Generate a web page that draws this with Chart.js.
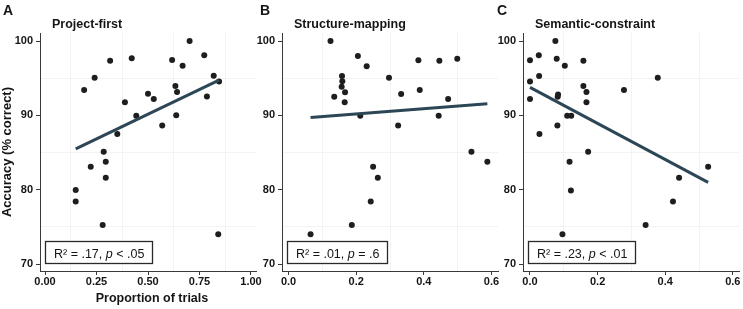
<!DOCTYPE html>
<html>
<head>
<meta charset="utf-8">
<script src="https://cdn.jsdelivr.net/npm/chart.js@4.4.0/dist/chart.umd.min.js"></script>
<style>
  html, body { margin: 0; padding: 0; background: #fff; overflow: hidden; }
  .painel { position: absolute; top: 0; }
</style>
</head>
<body>
<canvas id="grafico-a" class="painel" width="270" height="309" style="left:0px"></canvas>
<canvas id="grafico-b" class="painel" width="270" height="309" style="left:242px"></canvas>
<canvas id="grafico-c" class="painel" width="260" height="309" style="left:483px"></canvas>
<script>
// eixo y comum (acurácia %)
const yTicks = [70, 80, 90, 100];
const yMinor = [75, 85, 95];

// A - Project-first
const projX = [0.149, 0.149, 0.190, 0.222, 0.241, 0.280, 0.285, 0.295, 0.295, 0.316, 0.351, 0.388, 0.421, 0.443,
               0.500, 0.528, 0.569, 0.617, 0.633, 0.637, 0.641, 0.668, 0.702, 0.773, 0.786, 0.819, 0.841, 0.845];
const projY = [79.95, 78.4, 93.4, 83.1, 95.06, 75.24, 85.1, 83.76, 81.6, 97.35, 87.5, 91.75, 97.67, 89.95,
               92.9, 92.2, 88.65, 97.44, 93.94, 90.0, 93.14, 96.68, 100, 98.07, 92.55, 95.33, 74.0, 94.57];
const projFitX = [0.149, 0.845];
const projFitY = [85.5, 94.75];
const projTicks = [0, 0.25, 0.5, 0.75, 1];
const projMinor = [0.125, 0.375, 0.625, 0.875];
const projStats = [["R² = .17, ", false], ["p", true], [" < .05", false]];

// B - Structure-mapping
const estrX = [0.065, 0.124, 0.135, 0.157, 0.158, 0.159, 0.166, 0.167, 0.187, 0.205, 0.212, 0.231, 0.243,
               0.250, 0.264, 0.297, 0.324, 0.333, 0.384, 0.388, 0.444, 0.446, 0.472, 0.499, 0.541, 0.588];
const estrY = [74.0, 100, 92.5, 93.85, 95.3, 94.6, 91.75, 93.1, 75.24, 98.0, 89.95, 96.6, 78.4,
               83.1, 81.6, 95.06, 88.65, 92.87, 97.4, 93.4, 89.95, 97.35, 92.2, 97.6, 85.1, 83.76];
const estrFitX = [0.065, 0.588];
const estrFitY = [89.7, 91.57];
const estrStats = [["R² = .01, ", false], ["p", true], [" = .6", false]];

// C - Semantic-constraint
const semX = [0, 0, 0, 0.026, 0.027, 0.028, 0.075, 0.079, 0.081, 0.082, 0.083, 0.096, 0.103, 0.110,
              0.117, 0.121, 0.122, 0.158, 0.158, 0.167, 0.167, 0.172, 0.278, 0.342, 0.378, 0.423, 0.441, 0.527];
const semY = [97.4, 94.57, 92.2, 98.07, 95.3, 87.5, 100, 97.6, 88.65, 92.5, 92.8, 74.0, 96.68, 89.95,
              83.76, 79.9, 89.95, 97.35, 93.94, 93.14, 91.75, 85.1, 93.4, 75.24, 95.06, 78.4, 81.6, 83.1];
const semFitX = [0, 0.527];
const semFitY = [93.77, 80.98];
const semStats = [["R² = .23, ", false], ["p", true], [" < .01", false]];

const propTicks = [0, 0.2, 0.4, 0.6];
const propMinor = [0.1, 0.3, 0.5];

const fonte = '"Liberation Sans", Arial, Helvetica, sans-serif';
const corTexto = '#151515';
const corPonto = '#1e1e1e';
const corLinha = '#2d4656';
const corEixo = '#3a3a3a';
const corGrade = '#f3f3f3';

function pares(xs, ys) {
  return xs.map((x, i) => ({ x: x, y: ys[i] }));
}

function marcas(maiores, menores) {
  return function(scale) {
    scale.ticks = maiores.map(v => ({ value: v }))
      .concat(menores.map(v => ({ value: v, menor: true })))
      .sort((a, b) => a.value - b.value);
  };
}

const ehMenor = c => c.tick && c.tick.menor;

// letra, título do painel e caixa com R²
const textoPainel = {
  id: 'textoPainel',
  afterDraw(chart) {
    const cfg = chart.options.plugins.textoPainel;
    const ctx = chart.ctx;
    const area = chart.chartArea;
    ctx.save();
    ctx.textBaseline = 'alphabetic';
    ctx.textAlign = 'left';
    ctx.fillStyle = corTexto;
    ctx.font = `bold 14px ${fonte}`;
    ctx.fillText(cfg.letra, cfg.letraX, 15);
    ctx.font = `bold 12.5px ${fonte}`;
    ctx.fillText(cfg.titulo, area.left + 12, 27.5);

    // titulo do eixo x, deslocado um pouco à direita como no original
    if (cfg.tituloX) {
      ctx.textAlign = 'center';
      ctx.fillText(cfg.tituloX, (area.left + area.right) / 2 + 4, 302);
      ctx.textAlign = 'left';
    }

    let largura = 0;
    cfg.estat.forEach(p => {
      ctx.font = `${p[1] ? 'italic ' : ''}12.5px ${fonte}`;
      largura += ctx.measureText(p[0]).width;
    });
    const bx = Math.round(area.left + 5) + 0.5;
    const by = Math.round(area.bottom - 30) + 0.5;
    const bw = Math.round(largura + 17);
    const bh = 22;
    ctx.fillStyle = '#fff';
    ctx.fillRect(bx, by, bw, bh);
    ctx.strokeStyle = '#2a2a2a';
    ctx.lineWidth = 1.3;
    ctx.strokeRect(bx, by, bw, bh);
    ctx.fillStyle = corTexto;
    let tx = bx + 8.5;
    cfg.estat.forEach(p => {
      ctx.font = `${p[1] ? 'italic ' : ''}12.5px ${fonte}`;
      ctx.fillText(p[0], tx, by + 16);
      tx += ctx.measureText(p[0]).width;
    });
    ctx.restore();
  }
};

function painel(id, cfg) {
  return new Chart(document.getElementById(id), {
    type: 'scatter',
    data: {
      datasets: [
        {
          data: pares(cfg.fitX, cfg.fitY),
          showLine: true,
          borderColor: corLinha,
          borderWidth: 3,
          pointRadius: 0
        },
        {
          data: pares(cfg.x, cfg.y),
          backgroundColor: corPonto,
          borderColor: corPonto,
          borderWidth: 0,
          pointRadius: 3
        }
      ]
    },
    options: {
      responsive: false,
      animation: false,
      devicePixelRatio: 1,
      layout: { padding: { top: 33, right: cfg.direita, bottom: 0, left: 0 } },
      plugins: {
        legend: { display: false },
        tooltip: { enabled: false },
        textoPainel: { letra: cfg.letra, letraX: cfg.letraX, titulo: cfg.titulo, estat: cfg.estat, tituloX: cfg.tituloX }
      },
      scales: {
        x: {
          type: 'linear',
          min: cfg.xMin,
          max: cfg.xMax,
          afterBuildTicks: marcas(cfg.xTicks, cfg.xMinor),
          afterFit: s => { s.height = 38; s.paddingLeft = 0; s.paddingRight = 0; },
          ticks: {
            autoSkip: false,
            maxRotation: 0,
            padding: 0,
            color: corTexto,
            font: { family: fonte, size: 11, weight: 'bold' },
            callback: (v, i, t) => t[i].menor ? '' : v.toFixed(cfg.casas)
          },
          grid: {
            color: c => ehMenor(c) ? corGrade : 'rgba(0,0,0,0)',
            tickColor: c => ehMenor(c) ? 'rgba(0,0,0,0)' : corEixo,
            tickLength: 4,
            lineWidth: 1
          },
          border: { display: true, color: corEixo, width: 1 }
        },
        y: {
          min: 69.06,
          max: 101.08,
          afterBuildTicks: marcas(yTicks, yMinor),
          afterFit: s => { s.width = 40; s.paddingTop = 0; s.paddingBottom = 0; },
          ticks: {
            autoSkip: false,
            padding: 3,
            color: corTexto,
            font: { family: fonte, size: 11, weight: 'bold' },
            callback: (v, i, t) => t[i].menor ? '' : String(v)
          },
          grid: {
            color: c => ehMenor(c) ? corGrade : 'rgba(0,0,0,0)',
            tickColor: c => ehMenor(c) ? 'rgba(0,0,0,0)' : corEixo,
            tickLength: 4,
            lineWidth: 1
          },
          border: { display: true, color: corEixo, width: 1 },
          title: {
            display: !!cfg.tituloY,
            text: cfg.tituloY || '',
            color: corTexto,
            font: { family: fonte, size: 13, weight: 'bold' },
            padding: { top: 0, bottom: 0 }
          }
        }
      }
    },
    plugins: [textoPainel]
  });
}

const grafProj = painel('grafico-a', {
  x: projX, y: projY, fitX: projFitX, fitY: projFitY,
  xMin: -0.0243, xMax: 1.0243, xTicks: projTicks, xMinor: projMinor, casas: 2,
  letra: 'A', letraX: 3, titulo: 'Project-first', estat: projStats,
  tituloX: 'Proportion of trials', tituloY: 'Accuracy (% correct)', direita: 14
});

const grafEstr = painel('grafico-b', {
  x: estrX, y: estrY, fitX: estrFitX, fitY: estrFitY,
  xMin: -0.0195, xMax: 0.6195, xTicks: propTicks, xMinor: propMinor, casas: 1,
  letra: 'B', letraX: 18, titulo: 'Structure-mapping', estat: estrStats, direita: 14
});

const grafSem = painel('grafico-c', {
  x: semX, y: semY, fitX: semFitX, fitY: semFitY,
  xMin: -0.0207, xMax: 0.6183, xTicks: propTicks, xMinor: propMinor, casas: 1,
  letra: 'C', letraX: 14, titulo: 'Semantic-constraint', estat: semStats, direita: 4
});
</script>
</body>
</html>
